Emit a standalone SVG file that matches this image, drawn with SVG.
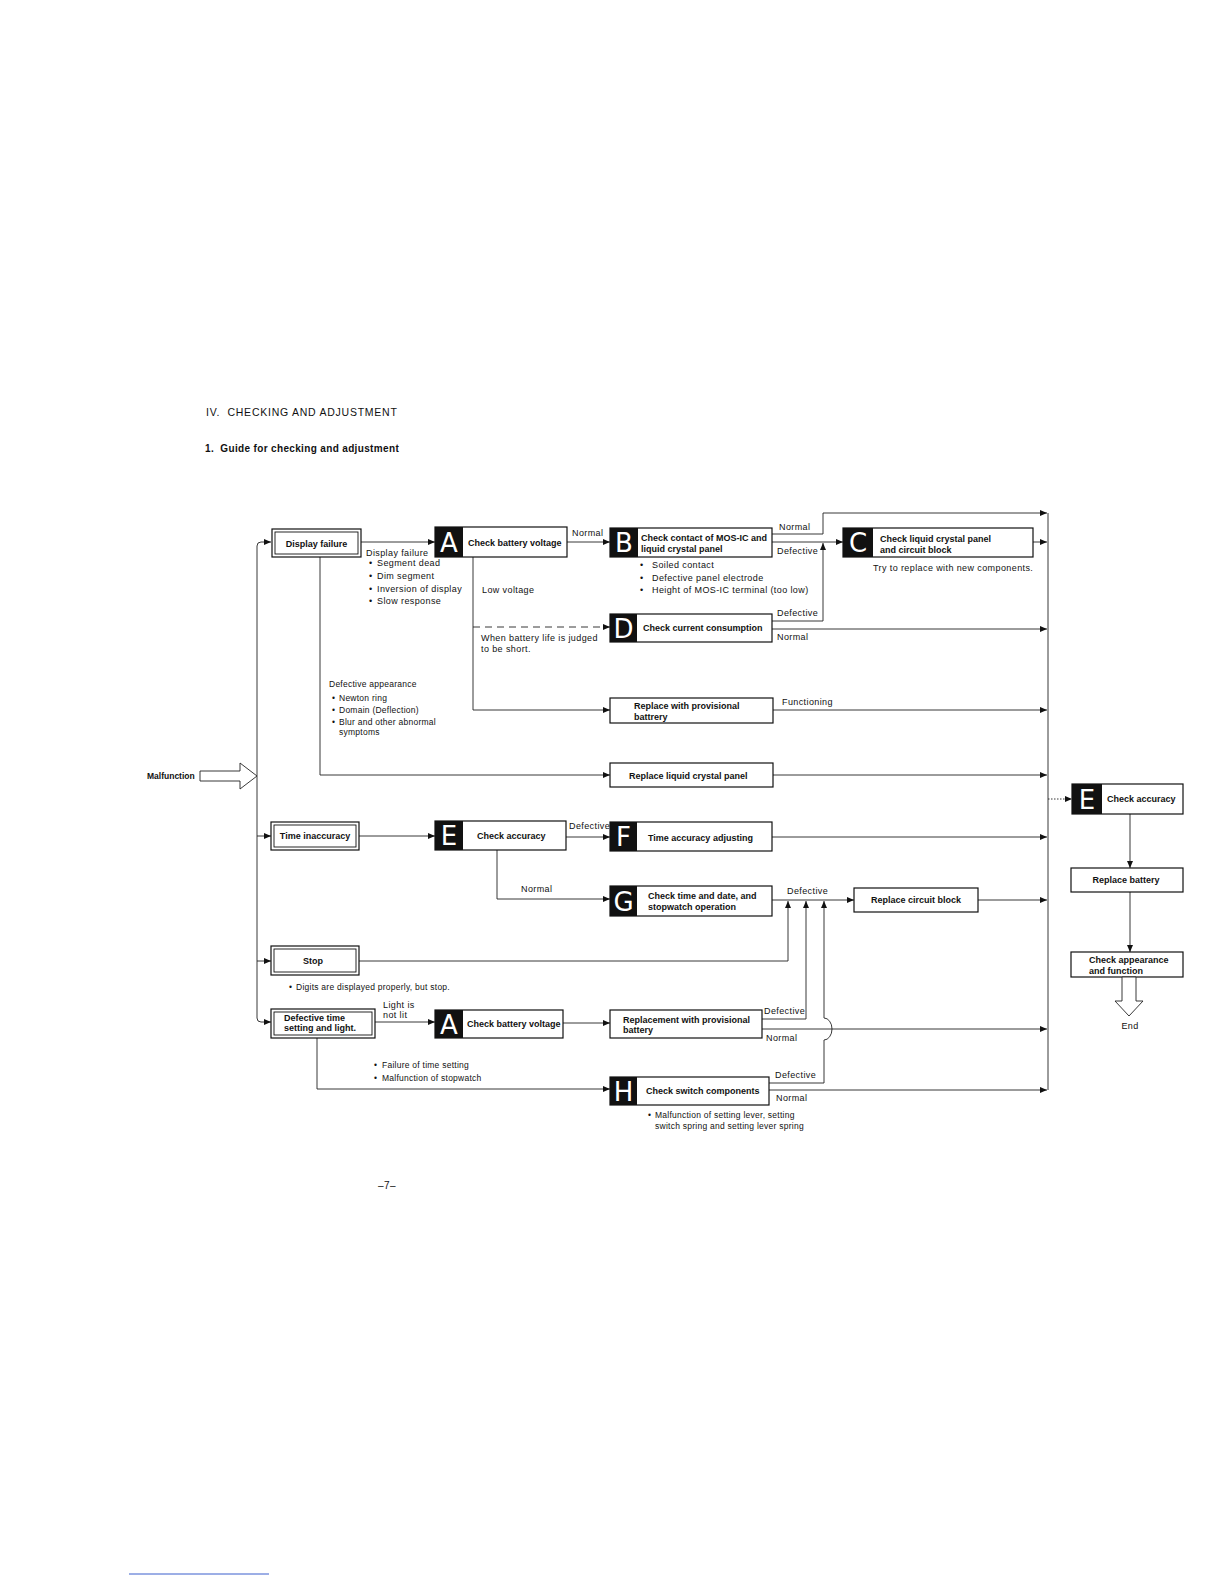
<svg xmlns="http://www.w3.org/2000/svg" width="1224" height="1584" viewBox="0 0 1224 1584">
<style>
.bg{fill:#fff}
.ln{stroke:#222;stroke-width:0.9;fill:none}
.dash{stroke-dasharray:7 5}
.dot{stroke-dasharray:1.5 1.5}
.box{fill:#fff;stroke:#111;stroke-width:1.2}
.box2{fill:none;stroke:#111;stroke-width:0.9}
.blk{fill:#111}
.bt{font-family:"Liberation Sans",Arial,sans-serif;font-size:9px;font-weight:bold;fill:#111}
.nt{font-family:"Liberation Sans",Arial,sans-serif;font-size:9px;letter-spacing:0.4px;fill:#111}
.st{font-family:"Liberation Sans",Arial,sans-serif;font-size:8.5px;letter-spacing:0.25px;fill:#111}
.lt{font-family:"DejaVu Sans",sans-serif;font-size:26px;fill:#fff;text-anchor:middle}
.mid{text-anchor:middle}
.title{font-family:"Liberation Sans",Arial,sans-serif;font-size:10.5px;letter-spacing:0.75px;fill:#111;white-space:pre}
.sub{font-family:"Liberation Sans",Arial,sans-serif;font-size:10px;font-weight:bold;letter-spacing:0.35px;fill:#111;white-space:pre}
.hol{fill:#fff;stroke:#222;stroke-width:0.9}
</style>
<defs>
<marker id="ar" markerUnits="userSpaceOnUse" markerWidth="8" markerHeight="6" refX="7" refY="3" orient="auto">
<path d="M0,0 L7,3 L0,6 z" fill="#111"/>
</marker>
</defs>
<rect class="bg" x="0" y="0" width="1224" height="1584"/>

<text class="title" x="206" y="416">IV.  CHECKING AND ADJUSTMENT</text>
<text class="sub" x="205" y="452">1.  Guide for checking and adjustment</text>

<g id="connectors">
<path class="ln" d="M257,600 L257,546 Q257,542 261,542 L271,542" marker-end="url(#ar)"/>
<path class="ln" d="M257,600 L257,1018 Q257,1022 261,1022 L271,1022" marker-end="url(#ar)"/>
<path class="ln" d="M257,836 L271,836" marker-end="url(#ar)"/>
<path class="ln" d="M257,961 L271,961" marker-end="url(#ar)"/>
<path class="ln" d="M361,542 L435,542" marker-end="url(#ar)"/>
<path class="ln" d="M567,542 L610,542" marker-end="url(#ar)"/>
<path class="ln" d="M772,534 L823,534 L823,513 L1047,513" marker-end="url(#ar)"/>
<path class="ln" d="M772,542 L843,542" marker-end="url(#ar)"/>
<path class="ln" d="M772,621 L823,621 L823,543" marker-end="url(#ar)"/>
<path class="ln" d="M1033,542 L1047,542" marker-end="url(#ar)"/>
<path class="ln" d="M772,629 L1047,629" marker-end="url(#ar)"/>
<path class="ln" d="M473,557 L473,710 L610,710" marker-end="url(#ar)"/>
<path class="ln dash" d="M473,627 L610,627" marker-end="url(#ar)"/>
<path class="ln" d="M773,710 L1047,710" marker-end="url(#ar)"/>
<path class="ln" d="M320,557 L320,775 L610,775" marker-end="url(#ar)"/>
<path class="ln" d="M773,775 L1047,775" marker-end="url(#ar)"/>
<path class="ln" d="M359,836 L435,836" marker-end="url(#ar)"/>
<path class="ln" d="M566,837 L610,837" marker-end="url(#ar)"/>
<path class="ln" d="M772,837 L1047,837" marker-end="url(#ar)"/>
<path class="ln" d="M497,850 L497,899 L610,899" marker-end="url(#ar)"/>
<path class="ln" d="M772,900 L854,900" marker-end="url(#ar)"/>
<path class="ln" d="M978,900 L1047,900" marker-end="url(#ar)"/>
<path class="ln" d="M359,961 L788,961 L788,901" marker-end="url(#ar)"/>
<path class="ln" d="M375,1022 L435,1022" marker-end="url(#ar)"/>
<path class="ln" d="M563,1023 L610,1023" marker-end="url(#ar)"/>
<path class="ln" d="M762,1019 L806,1019 L806,901" marker-end="url(#ar)"/>
<path class="ln" d="M762,1029 L1047,1029" marker-end="url(#ar)"/>
<path class="ln" d="M769,1083 L824,1083 L824,1040 A8,11 0 0 0 824,1018 L824,901" marker-end="url(#ar)"/>
<path class="ln" d="M769,1090 L1047,1090" marker-end="url(#ar)"/>
<path class="ln" d="M317,1038 L317,1089 L610,1089" marker-end="url(#ar)"/>
<path class="ln" d="M1048,513 L1048,1090"/>
<path class="ln dot" d="M1048,799 L1072,799" marker-end="url(#ar)"/>
<path class="ln" d="M1130,814 L1130,868" marker-end="url(#ar)"/>
<path class="ln" d="M1130,892 L1130,952" marker-end="url(#ar)"/>
</g>

<g id="malfunction">
<text class="bt" x="147" y="779" style="font-size:8.5px">Malfunction</text>
<polygon class="hol" points="200,771 240,771 240,763 257,776 240,789 240,781 200,781"/>
</g>

<g id="display-failure">
<rect class="box" x="272" y="529" width="89" height="28"/>
<rect class="box2" x="275" y="532" width="83" height="22"/>
<text class="bt mid" x="316.5" y="546.5">Display failure</text>
</g>

<g id="display-failure-notes">
<text class="nt" x="366" y="556">Display failure</text>
<text class="nt" x="369" y="566">•</text><text class="nt" x="377" y="566">Segment dead</text>
<text class="nt" x="369" y="579">•</text><text class="nt" x="377" y="579">Dim segment</text>
<text class="nt" x="369" y="592">•</text><text class="nt" x="377" y="592">Inversion of display</text>
<text class="nt" x="369" y="604">•</text><text class="nt" x="377" y="604">Slow response</text>
</g>

<g id="a-top">
<rect class="box" x="435" y="527" width="132" height="30"/>
<rect class="blk" x="435" y="527" width="28" height="30"/>
<text class="lt" x="449" y="551.5">A</text>
<text class="bt" x="468" y="545.5">Check battery voltage</text>
</g>
<text class="nt" x="572" y="536">Normal</text>

<g id="b">
<rect class="box" x="610" y="528" width="162" height="29"/>
<rect class="blk" x="610" y="528" width="28" height="29"/>
<text class="lt" x="624" y="552">B</text>
<text class="bt" x="641" y="540.5">Check contact of MOS-IC and</text>
<text class="bt" x="641" y="551.5">liquid crystal panel</text>
</g>
<g id="b-notes">
<text class="nt" x="640" y="568">•</text><text class="nt" x="652" y="568">Soiled contact</text>
<text class="nt" x="640" y="581">•</text><text class="nt" x="652" y="581">Defective panel electrode</text>
<text class="nt" x="640" y="593">•</text><text class="nt" x="652" y="593">Height of MOS-IC terminal (too low)</text>
<text class="nt" x="779" y="530">Normal</text>
<text class="nt" x="777" y="554">Defective</text>
</g>

<g id="c">
<rect class="box" x="843" y="528" width="190" height="29"/>
<rect class="blk" x="843" y="528" width="30" height="29"/>
<text class="lt" x="858" y="552">C</text>
<text class="bt" x="880" y="541.5">Check liquid crystal panel</text>
<text class="bt" x="880" y="552.5">and circuit block</text>
</g>
<text class="nt" x="873" y="571">Try to replace with new components.</text>

<text class="nt" x="482" y="593">Low voltage</text>
<text class="nt" x="481" y="641">When battery life is judged</text>
<text class="nt" x="481" y="652">to be short.</text>

<g id="d">
<rect class="box" x="610" y="614" width="162" height="28"/>
<rect class="blk" x="610" y="614" width="27" height="28"/>
<text class="lt" x="623.5" y="637.5">D</text>
<text class="bt" x="643" y="631">Check current consumption</text>
</g>
<text class="nt" x="777" y="616">Defective</text>
<text class="nt" x="777" y="640">Normal</text>

<g id="defective-appearance-notes">
<text class="st" x="329" y="687">Defective appearance</text>
<text class="st" x="332" y="701">•</text><text class="st" x="339" y="701">Newton ring</text>
<text class="st" x="332" y="713">•</text><text class="st" x="339" y="713">Domain (Deflection)</text>
<text class="st" x="332" y="725">•</text><text class="st" x="339" y="725">Blur and other abnormal</text>
<text class="st" x="339" y="735">symptoms</text>
</g>

<g id="replace-provisional">
<rect class="box" x="610" y="698" width="163" height="25"/>
<text class="bt" x="634" y="709">Replace with provisional</text>
<text class="bt" x="634" y="719.5">battrery</text>
</g>
<text class="nt" x="782" y="705">Functioning</text>

<g id="replace-lcp">
<rect class="box" x="610" y="763" width="163" height="24"/>
<text class="bt" x="629" y="778.5">Replace liquid crystal panel</text>
</g>

<g id="time-inaccuracy">
<rect class="box" x="271" y="822" width="88" height="28"/>
<rect class="box2" x="274" y="825" width="82" height="22"/>
<text class="bt mid" x="315" y="839">Time inaccuracy</text>
</g>

<g id="e-mid">
<rect class="box" x="435" y="821" width="131" height="29"/>
<rect class="blk" x="435" y="821" width="28" height="29"/>
<text class="lt" x="449" y="845">E</text>
<text class="bt" x="477" y="839">Check accuracy</text>
</g>
<text class="nt" x="569" y="829">Defective</text>
<text class="nt" x="521" y="892">Normal</text>

<g id="f">
<rect class="box" x="610" y="822" width="162" height="29"/>
<rect class="blk" x="610" y="822" width="27" height="29"/>
<text class="lt" x="623.5" y="846">F</text>
<text class="bt" x="648" y="840.5">Time accuracy adjusting</text>
</g>

<g id="g">
<rect class="box" x="610" y="886" width="162" height="30"/>
<rect class="blk" x="610" y="886" width="27" height="30"/>
<text class="lt" x="623.5" y="910.5">G</text>
<text class="bt" x="648" y="899">Check time and date, and</text>
<text class="bt" x="648" y="910">stopwatch operation</text>
</g>
<text class="nt" x="787" y="894">Defective</text>

<g id="replace-circuit-block">
<rect class="box" x="854" y="888" width="124" height="24"/>
<text class="bt mid" x="916" y="903">Replace circuit block</text>
</g>

<g id="stop">
<rect class="box" x="271" y="946" width="88" height="29"/>
<rect class="box2" x="274" y="949" width="82" height="23"/>
<text class="bt mid" x="313" y="963.5">Stop</text>
</g>
<text class="st" x="289" y="990">•</text><text class="st" x="296" y="990">Digits are displayed properly, but stop.</text>

<g id="defective-time">
<rect class="box" x="271" y="1009" width="104" height="29"/>
<rect class="box2" x="274" y="1012" width="98" height="23"/>
<text class="bt" x="284" y="1021">Defective time</text>
<text class="bt" x="284" y="1031">setting and light.</text>
</g>
<text class="nt" x="383" y="1008">Light is</text>
<text class="nt" x="383" y="1018">not lit</text>

<g id="a-bottom">
<rect class="box" x="435" y="1010" width="128" height="28"/>
<rect class="blk" x="435" y="1010" width="28" height="28"/>
<text class="lt" x="449" y="1033.5">A</text>
<text class="bt" x="467" y="1026.5">Check battery voltage</text>
</g>

<g id="replacement-provisional">
<rect class="box" x="610" y="1010" width="152" height="28"/>
<text class="bt" x="623" y="1023">Replacement with provisional</text>
<text class="bt" x="623" y="1033">battery</text>
</g>
<text class="nt" x="764" y="1014">Defective</text>
<text class="nt" x="766" y="1041">Normal</text>

<g id="time-setting-notes">
<text class="st" x="374" y="1068">•</text><text class="st" x="382" y="1068">Failure of time setting</text>
<text class="st" x="374" y="1081">•</text><text class="st" x="382" y="1081">Malfunction of stopwatch</text>
</g>

<g id="h">
<rect class="box" x="610" y="1077" width="159" height="28"/>
<rect class="blk" x="610" y="1077" width="27" height="28"/>
<text class="lt" x="623.5" y="1100.5">H</text>
<text class="bt" x="646" y="1094">Check switch components</text>
</g>
<text class="nt" x="775" y="1078">Defective</text>
<text class="nt" x="776" y="1101">Normal</text>
<text class="st" x="648" y="1118">•</text><text class="st" x="655" y="1118">Malfunction of setting lever, setting</text>
<text class="st" x="655" y="1129">switch spring and setting lever spring</text>

<g id="e-right">
<rect class="box" x="1072" y="784" width="111" height="30"/>
<rect class="blk" x="1072" y="784" width="30" height="30"/>
<text class="lt" x="1087" y="808.5">E</text>
<text class="bt" x="1107" y="801.5">Check accuracy</text>
</g>

<g id="replace-battery">
<rect class="box" x="1071" y="868" width="112" height="24"/>
<text class="bt mid" x="1126" y="883">Replace battery</text>
</g>

<g id="check-appearance">
<rect class="box" x="1071" y="952" width="112" height="25"/>
<text class="bt" x="1089" y="963">Check appearance</text>
<text class="bt" x="1089" y="974">and function</text>
</g>

<g id="end">
<polygon class="hol" points="1122,977 1136,977 1136,1001 1143,1001 1129,1016 1115,1001 1122,1001"/>
<text class="nt mid" x="1130" y="1029">End</text>
</g>

<text class="nt" x="378" y="1189" style="font-size:10px">–7–</text>
<line x1="129" y1="1574" x2="269" y2="1574" stroke="#3a5fcd" stroke-width="1"/>
</svg>
